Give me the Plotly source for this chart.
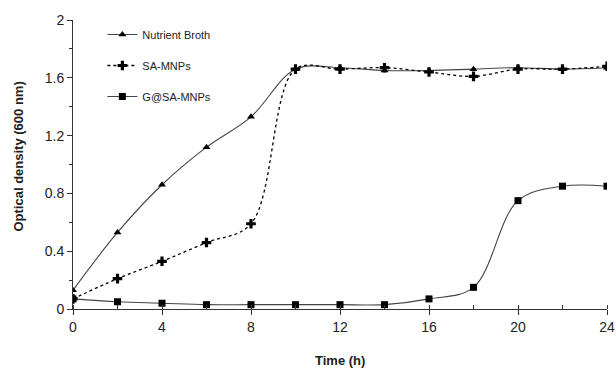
import plotly.graph_objects as go

time_h = [0, 2, 4, 6, 8, 10, 12, 14, 16, 18, 20, 22, 24]
nutrient_broth = [0.13, 0.53, 0.86, 1.12, 1.33, 1.66, 1.67, 1.65, 1.65, 1.66, 1.67, 1.66, 1.67]
sa_mnps = [0.07, 0.21, 0.33, 0.46, 0.59, 1.66, 1.66, 1.67, 1.64, 1.61, 1.66, 1.66, 1.68]
g_sa_mnps = [0.07, 0.05, 0.04, 0.03, 0.03, 0.03, 0.03, 0.03, 0.07, 0.15, 0.75, 0.85, 0.85]

x_ticks = [0, 4, 8, 12, 16, 20, 24]
y_ticks = [0, 0.4, 0.8, 1.2, 1.6, 2]
y_tick_text = ["0", "0.4", "0.8", "1.2", "1.6", "2"]

fig = go.Figure()
fig.add_trace(go.Scatter(
    x=time_h, y=nutrient_broth, name="Nutrient Broth", mode="lines+markers",
    line=dict(color="#444", width=1.1, shape="spline", smoothing=1.0),
    marker=dict(symbol="triangle-up", size=7, color="black"),
    legendgroup="a"))
fig.add_trace(go.Scatter(
    x=time_h, y=sa_mnps, name="SA-MNPs", mode="lines+markers",
    line=dict(color="black", width=1.3, dash="dot", shape="spline", smoothing=1.0),
    marker=dict(symbol="cross", size=8, color="black"),
    legendgroup="b"))
fig.add_trace(go.Scatter(
    x=time_h, y=g_sa_mnps, name="G@SA-MNPs", mode="lines+markers",
    line=dict(color="#444", width=1.1, shape="spline", smoothing=1.0),
    marker=dict(symbol="square", size=7, color="black"),
    legendgroup="c"))

fig.update_layout(
    width=616, height=370,
    margin=dict(l=73, r=9, t=20, b=61),
    paper_bgcolor="white", plot_bgcolor="white",
    font=dict(family="Liberation Sans, Arial, sans-serif", color="#222"),
    legend=dict(x=0.055, y=1.0, xanchor="left", yanchor="top",
                font=dict(size=11, color="#222"), tracegroupgap=12,
                bgcolor="rgba(0,0,0,0)"),
    xaxis=dict(range=[0, 24], tickvals=x_ticks, ticks="outside", ticklen=5,
               tickcolor="#333", showline=True, linecolor="#333", linewidth=1,
               showgrid=False, zeroline=False, tickfont=dict(size=14), automargin=False,
               minor=dict(dtick=2, ticks="inside", ticklen=4, tickcolor="#333")),
    yaxis=dict(range=[0, 2], tickvals=y_ticks, ticktext=y_tick_text, ticks="outside",
               ticklen=5, tickcolor="#333", showline=True, linecolor="#333", linewidth=1,
               showgrid=False, zeroline=False, tickfont=dict(size=14), automargin=False,
               minor=dict(dtick=0.2, ticks="outside", ticklen=3, tickcolor="#333")),
    annotations=[
        dict(text="<b>Time (h)</b>", xref="paper", yref="paper", x=0.5, y=-0.177,
             yanchor="middle", showarrow=False, font=dict(size=13, color="#222")),
        dict(text="<b>Optical density (600 nm)</b>", xref="paper", yref="paper",
             x=-0.102, y=0.526, textangle=-90, showarrow=False, xanchor="center",
             yanchor="middle", font=dict(size=13, color="#222")),
    ],
)

fig.write_html("out.html")
